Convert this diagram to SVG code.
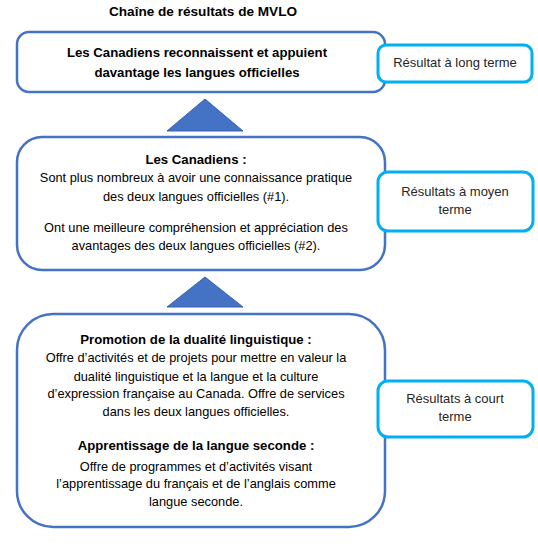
<svg xmlns="http://www.w3.org/2000/svg" width="538" height="546" viewBox="0 0 538 546">
<style>
text{font-family:"Liberation Sans",Arial,sans-serif;font-size:12.8px;fill:#000;text-anchor:middle}
.b{font-weight:bold;font-size:13.2px}
.title{font-weight:bold;font-size:13.6px}
.main{fill:#fff;stroke:#4472C4;stroke-width:2.5}
.side{fill:#fff;stroke:#00B0F0;stroke-width:3}
.side-t{fill:#262626;font-size:13px}
.tri{fill:#4472C4;stroke:#3A63AE;stroke-width:1}
</style>
<rect width="538" height="546" fill="#fff"/>
<text class="title" x="203" y="16">Chaîne de résultats de MVLO</text>
<g id="connectors">
<polygon class="tri" points="205,99 243,131 167,131"/>
<polygon class="tri" points="205,277 243,307 167,307"/>
</g>
<g id="long-terme">
<rect class="main" x="17" y="32" width="368" height="60" rx="12"/>
<text class="b" x="197" y="57">Les Canadiens reconnaissent et appuient</text>
<text class="b" x="197" y="77">davantage les langues officielles</text>
</g>
<g id="moyen-terme">
<rect class="main" x="17" y="137" width="368" height="133" rx="25"/>
<text class="b" x="196" y="164">Les Canadiens :</text>
<text x="196" y="182">Sont plus nombreux à avoir une connaissance pratique</text>
<text x="196" y="201">des deux langues officielles (#1).</text>
<text x="196" y="232">Ont une meilleure compréhension et appréciation des</text>
<text x="196" y="250">avantages des deux langues officielles (#2).</text>
</g>
<g id="court-terme">
<rect class="main" x="17" y="314" width="368" height="213" rx="36"/>
<text class="b" x="196" y="344">Promotion de la dualité linguistique :</text>
<text x="196" y="362">Offre d’activités et de projets pour mettre en valeur la</text>
<text x="196" y="381">dualité linguistique et la langue et la culture</text>
<text x="196" y="398">d’expression française au Canada. Offre de services</text>
<text x="196" y="416">dans les deux langues officielles.</text>
<text class="b" x="196" y="450">Apprentissage de la langue seconde :</text>
<text x="196" y="471">Offre de programmes et d’activités visant</text>
<text x="196" y="488">l’apprentissage du français et de l’anglais comme</text>
<text x="196" y="506">langue seconde.</text>
</g>
<g id="label-long">
<rect class="side" x="378" y="45" width="154" height="37" rx="8"/>
<text class="side-t" x="455" y="67">Résultat à long terme</text>
</g>
<g id="label-moyen">
<rect class="side" x="378" y="172" width="155" height="59" rx="10"/>
<text class="side-t" x="455" y="196">Résultats à moyen</text>
<text class="side-t" x="455" y="214">terme</text>
</g>
<g id="label-court">
<rect class="side" x="378" y="381" width="155" height="56" rx="10"/>
<text class="side-t" x="455" y="403">Résultats à court</text>
<text class="side-t" x="455" y="421">terme</text>
</g>
</svg>
